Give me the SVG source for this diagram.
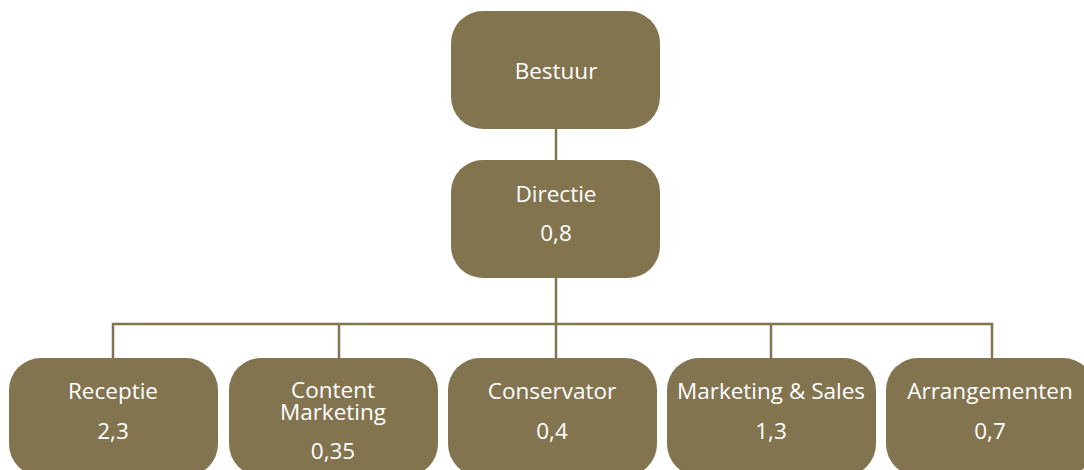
<svg xmlns="http://www.w3.org/2000/svg" width="1084" height="470" viewBox="0 0 1084 470">
<style>
.box{fill:#837450}
.lbl{font-family:"Open Sans","Noto Sans",sans-serif;font-size:22.5px;font-weight:500;fill:#ffffff;text-anchor:middle}
.ln{stroke:#837450;stroke-width:2.5;fill:none}
</style>
<rect width="1084" height="470" fill="#ffffff"/>
<g id="connectors">
<line class="ln" x1="556" y1="128" x2="556" y2="162"/>
<line class="ln" x1="556" y1="277" x2="556" y2="324"/>
<polyline class="ln" points="113,359 113,324 992,324 992,359"/>
<line class="ln" x1="339" y1="324" x2="339" y2="359"/>
<line class="ln" x1="556" y1="324" x2="556" y2="359"/>
<line class="ln" x1="771" y1="324" x2="771" y2="359"/>
</g>
<g id="bestuur">
<rect class="box" x="451" y="11" width="209" height="118" rx="32"/>
<text class="lbl" x="556" y="79">Bestuur</text>
</g>
<g id="directie">
<rect class="box" x="451" y="160" width="209" height="118" rx="32"/>
<text class="lbl" x="556" y="202">Directie</text>
<text class="lbl" x="556" y="241">0,8</text>
</g>
<g id="receptie">
<rect class="box" x="9" y="358" width="209" height="118" rx="32"/>
<text class="lbl" x="113" y="399">Receptie</text>
<text class="lbl" x="113" y="439">2,3</text>
</g>
<g id="content-marketing">
<rect class="box" x="229" y="358" width="209" height="118" rx="32"/>
<text class="lbl" x="333" y="398">Content</text>
<text class="lbl" x="333" y="420">Marketing</text>
<text class="lbl" x="333" y="459">0,35</text>
</g>
<g id="conservator">
<rect class="box" x="448" y="358" width="209" height="118" rx="32"/>
<text class="lbl" x="552" y="399">Conservator</text>
<text class="lbl" x="552" y="439">0,4</text>
</g>
<g id="marketing-sales">
<rect class="box" x="667" y="358" width="209" height="118" rx="32"/>
<text class="lbl" x="771" y="399">Marketing &amp; Sales</text>
<text class="lbl" x="771" y="439">1,3</text>
</g>
<g id="arrangementen">
<rect class="box" x="886" y="358" width="209" height="118" rx="32"/>
<text class="lbl" x="990" y="399">Arrangementen</text>
<text class="lbl" x="990" y="439">0,7</text>
</g>
</svg>
